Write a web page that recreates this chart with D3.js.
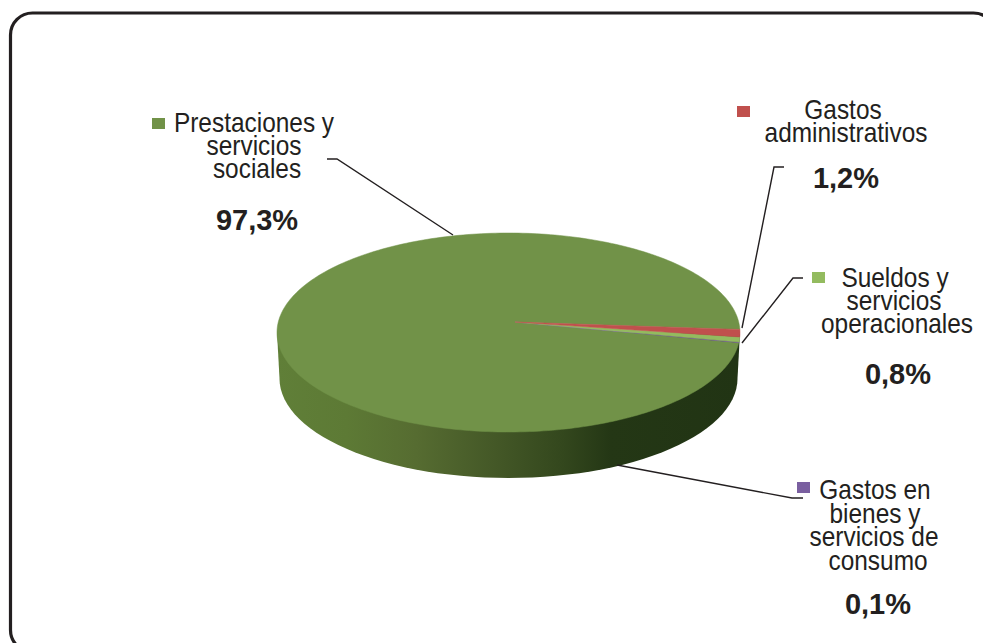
<!DOCTYPE html>
<html>
<head>
<meta charset="utf-8">
<script src="https://cdn.jsdelivr.net/npm/d3@7"></script>
<style>
  html, body { margin: 0; padding: 0; background: #fff; overflow: hidden; }
  text { font-family: "Liberation Sans", Arial, sans-serif; fill: #231f20; }
</style>
</head>
<body>
<svg id="svgPie"></svg>
<script>
// DATA ////////////////////////////////////////////////////////////////////////
var categories = ["Gastos administrativos", "Sueldos y servicios operacionales", "Gastos en bienes y servicios de consumo", "Prestaciones y servicios sociales"];
var values = [1.2, 0.8, 0.1, 97.3];
var value_labels = ["1,2%", "0,8%", "0,1%", "97,3%"];
var label_lines = [
    ["Gastos", "administrativos"],
    ["Sueldos y", "servicios", "operacionales"],
    ["Gastos en", "bienes y", "servicios de", "consumo"],
    ["Prestaciones y", "servicios", "sociales"]
];
var colours = ["#c0504d", "#93bb5f", "#7a5fa0", "#719248"];

// SETUP ///////////////////////////////////////////////////////////////////////
const WIDTH = 983, HEIGHT = 643;
const CX = 508.5, CY = 332.5, RX = 231.5, RY = 99.5;
const DEPTH = 46;
const BOTTOM_RX = 229;
// the perspective moves the pie's apex away from the ellipse centre
const APEX_X = 515, APEX_Y = 322;
const START = 1.54;
const TEXT_SQUEEZE = 0.905;

var svg = d3.select("#svgPie").attr("width", WIDTH).attr("height", HEIGHT);

// frame, runs off the right and bottom of the picture
svg.append("rect")
    .attr("x", 10.5).attr("y", 13)
    .attr("width", 985).attr("height", 639)
    .attr("rx", 22).attr("ry", 22)
    .attr("fill", "none").attr("stroke", "#231f20").attr("stroke-width", 3.2);

var x = d3.scaleLinear().domain([-1, 1]).range([CX - RX, CX + RX]);
var y = d3.scaleLinear().domain([1, -1]).range([CY - RY, CY + RY]);

var arcs = d3.pie().sort(null).value(function (d) { return d; })
    .startAngle(START)
    .endAngle(START + 2 * Math.PI)(values);

// side gradient
var defs = svg.append("defs");
var grad = defs.append("linearGradient").attr("id", "sideGrad")
    .attr("gradientUnits", "userSpaceOnUse")
    .attr("x1", CX - RX).attr("x2", CX + RX).attr("y1", 0).attr("y2", 0);
[[0, "#607f38"], [0.15, "#5d7a35"], [0.3, "#566c31"], [0.47, "#445827"], [0.62, "#33471d"], [0.72, "#243715"], [1, "#213414"]]
    .forEach(function (s) { grad.append("stop").attr("offset", s[0]).attr("stop-color", s[1]); });

// side wall: bottom outline right to left, closed behind the top face
var side = d3.path();
side.moveTo(CX + RX, CY);
d3.range(0, 181, 3).forEach(function (a) {
    var t = a * Math.PI / 180;
    side.lineTo(CX + BOTTOM_RX * Math.cos(t), CY + DEPTH + RY * Math.sin(t));
});
side.lineTo(CX - RX, CY);
side.closePath();
svg.append("path").attr("d", side.toString()).attr("fill", "url(#sideGrad)");

// top face, one wedge per value
function wedge(d) {
    var p = d3.path();
    p.moveTo(APEX_X, APEX_Y);
    var n = Math.max(2, Math.ceil((d.endAngle - d.startAngle) / 0.02));
    for (var i = 0; i <= n; i++) {
        var t = d.startAngle + (d.endAngle - d.startAngle) * i / n;
        p.lineTo(x(Math.sin(t)), y(Math.cos(t)));
    }
    p.closePath();
    return p.toString();
}
// big slice goes first so its edge does not eat the thin ones
svg.selectAll("path.slice")
    .data(arcs.slice().reverse())
    .enter()
    .append("path")
    .attr("class", "slice")
    .attr("d", wedge)
    .attr("fill", function (d) { return colours[d.index]; })
    .attr("stroke", function (d) { return colours[d.index]; })
    .attr("stroke-width", 0.5);

// leader lines
var leaders = [
    [[784, 167], [774, 167], [742, 328]],
    [[803, 278], [793, 278], [742, 343]],
    [[803, 498], [792, 498], [617, 465]],
    [[327, 159], [337, 159], [453, 235]]
];
svg.selectAll("path.leader")
    .data(leaders)
    .enter()
    .append("path")
    .attr("class", "leader")
    .attr("d", d3.line())
    .attr("fill", "none")
    .attr("stroke", "#231f20")
    .attr("stroke-width", 1.4);

// labels: key square, name lines [centre x, baseline], value [centre x, baseline]
var key_pos = [[737, 106], [812, 272], [797, 482], [152, 118]];
var line_pos = [
    [[843, 119], [846, 142]],
    [[895, 287], [894, 310], [897, 333]],
    [[875, 499], [875, 523], [874, 546], [878, 570]],
    [[254, 132], [254, 155], [257, 178]]
];
var value_pos = [[846, 188], [898, 384], [878, 614], [257, 230]];

var labels = svg.selectAll("g.label")
    .data(categories)
    .enter()
    .append("g")
    .attr("class", "label");
labels.append("rect")
    .attr("x", function (d, i) { return key_pos[i][0]; })
    .attr("y", function (d, i) { return key_pos[i][1]; })
    .attr("width", 13).attr("height", 11)
    .attr("fill", function (d, i) { return colours[i]; });
labels.each(function (d, i) {
    var g = d3.select(this);
    label_lines[i].forEach(function (line, j) {
        g.append("text")
            .attr("transform", "translate(" + line_pos[i][j][0] + "," + line_pos[i][j][1] + ") scale(" + TEXT_SQUEEZE + ",1)")
            .attr("text-anchor", "middle")
            .style("font-size", "27px")
            .text(line);
    });
    g.append("text")
        .attr("x", value_pos[i][0])
        .attr("y", value_pos[i][1])
        .attr("text-anchor", "middle")
        .style("font-size", "29px")
        .style("font-weight", "bold")
        .text(value_labels[i]);
});
</script>
</body>
</html>
